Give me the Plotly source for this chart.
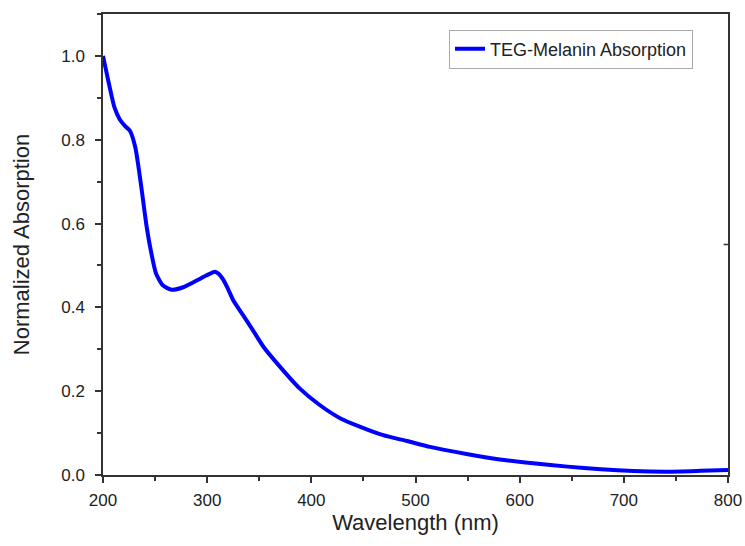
import plotly.graph_objects as go

# TEG-melanin UV-vis absorption spectrum (normalized)
wavelength = [200, 203, 206, 211, 216, 221, 226, 231, 235, 238.5, 242, 246.5, 251,
              257.7, 266, 277, 290, 299, 307.5, 311, 315.4, 320, 325, 334.6, 344,
              354, 370, 389, 408, 428, 447, 469, 492, 514, 549, 581, 613, 646, 678,
              709, 742, 774, 800]
absorption = [1.00, 0.965, 0.93, 0.877, 0.849, 0.833, 0.821, 0.782, 0.719, 0.655,
              0.591, 0.528, 0.48, 0.452, 0.442, 0.448, 0.464, 0.476, 0.485, 0.48,
              0.466, 0.444, 0.417, 0.381, 0.345, 0.306, 0.258, 0.206, 0.167, 0.135,
              0.115, 0.095, 0.081, 0.067, 0.05, 0.037, 0.028, 0.02, 0.0135, 0.0095,
              0.008, 0.01, 0.012]

series_name = "TEG-Melanin Absorption"
x_title = "Wavelength (nm)"
y_title = "Normalized Absorption"

font_family = "Liberation Sans, Arial, sans-serif"
axis_color = "#333333"
text_color = "#222222"

fig = go.Figure()
fig.add_trace(go.Scatter(
    x=wavelength, y=absorption, mode="lines", name=series_name,
    line=dict(color="#0000FF", width=4, shape="spline", smoothing=0.6),
))

common_axis = dict(
    showline=True, linecolor=axis_color, linewidth=1.5, mirror=True,
    ticks="outside", ticklen=6, tickwidth=1.5, tickcolor=axis_color,
    showgrid=False, zeroline=False, automargin=False,
    tickfont=dict(family=font_family, size=17, color=text_color),
    title_font=dict(family=font_family, size=22, color=text_color),
    minor=dict(ticks="outside", ticklen=4, tickwidth=1.5, tickcolor=axis_color),
)

fig.update_xaxes(range=[200, 800], dtick=100, minor_dtick=50,
                 title_text=x_title, title_standoff=4, ticklabelstandoff=3,
                 **common_axis)
fig.update_yaxes(range=[0, 1.1], dtick=0.2, minor_dtick=0.1, tickformat=".1f",
                 title_text=y_title, title_standoff=26, ticklabelstandoff=7,
                 **common_axis)

# small inward tick on the right spine
fig.add_shape(type="line", xref="paper", yref="y", x0=0.993, x1=1.0, y0=0.55, y1=0.55,
              line=dict(color=axis_color, width=1.5))

fig.update_layout(
    width=745, height=546,
    margin=dict(l=103, r=17, t=14, b=71),
    paper_bgcolor="white", plot_bgcolor="white",
    showlegend=True,
    legend=dict(x=0.944, y=0.966, xanchor="right", yanchor="top",
                bgcolor="white", bordercolor="#aaaaaa", borderwidth=1,
                font=dict(family=font_family, size=18, color=text_color),
                tracegroupgap=0),
)

fig.write_html("out.html")
